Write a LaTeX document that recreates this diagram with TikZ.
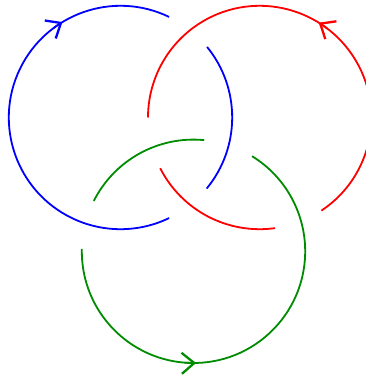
\documentclass[tikz,border=0pt]{standalone}
\usepackage{xcolor}
\usepackage{tikz}
\usetikzlibrary{arrows.meta}

\definecolor{ringblue}{RGB}{0,0,255}
\definecolor{ringred}{RGB}{255,0,0}
\definecolor{ringgreen}{RGB}{0,140,0}

\begin{document}
\begin{tikzpicture}[
  x=1pt, y=1pt,
  ring/.style={line width=1.8pt},
  tip/.style={line width=1.8pt, -{Straight Barb[length=12.5pt, width=21pt, line width=2.3pt]}}
]
  \useasboundingbox (0,0) rectangle (366,378);
  \def\rad{111.7}
  \coordinate (Blue) at (120.5,260.5);
  \coordinate (Red) at (259.7,260.5);
  \coordinate (Green) at (193.5,126.7);

  % blue ring, passes under red
  \draw[ring, ringblue] (Blue) ++(-39.5:\rad) arc[start angle=-39.5, end angle=39.2, radius=\rad];
  \draw[ring, ringblue] (Blue) ++(64.2:\rad) arc[start angle=64.2, end angle=295.8, radius=\rad];
  \draw[tip, ringblue] (Blue) ++(127:\rad) arc[start angle=127, end angle=121.3, radius=\rad];

  % red ring, passes under green
  \draw[ring, ringred] (Red) ++(207:\rad) arc[start angle=207, end angle=277.9, radius=\rad];
  \draw[ring, ringred] (Red) ++(303.5:\rad) arc[start angle=303.5, end angle=540, radius=\rad];
  \draw[tip, ringred] (Red) ++(52.5:\rad) arc[start angle=52.5, end angle=58.1, radius=\rad];

  % green ring, passes under blue
  \draw[ring, ringgreen] (Green) ++(84.5:\rad) arc[start angle=84.5, end angle=153.2, radius=\rad];
  \draw[ring, ringgreen] (Green) ++(178.8:\rad) arc[start angle=178.8, end angle=418.4, radius=\rad];
  \draw[tip, ringgreen] (Green) ++(265.5:\rad) arc[start angle=265.5, end angle=271.3, radius=\rad];
\end{tikzpicture}
\end{document}
